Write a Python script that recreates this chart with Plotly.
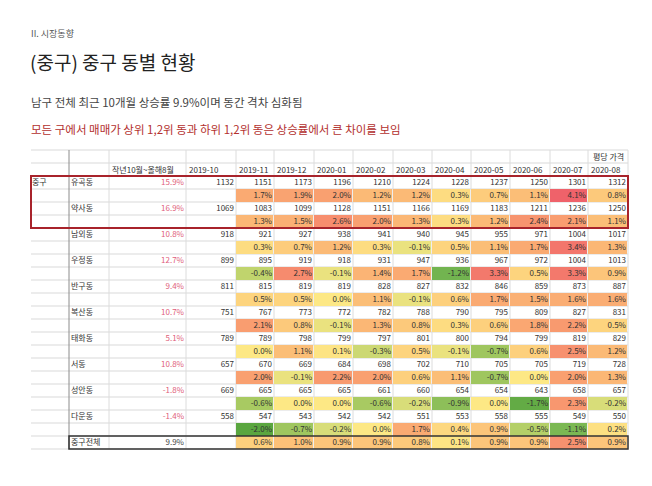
import plotly.graph_objects as go

FONT = "Noto Sans CJK KR"

# ---- data ----
district = "중구"
dongs = ["유곡동", "약사동", "남외동", "우정동", "반구동", "복산동", "태화동", "서동", "성안동", "다운동"]
growth = [15.9, 16.9, 10.8, 12.7, 9.4, 10.7, 5.1, 10.8, -1.8, -1.4]
price_2019_10 = [1132, 1069, 918, 899, 811, 751, 789, 657, 669, 558]
months = ["2019-11", "2019-12", "2020-01", "2020-02", "2020-03",
          "2020-04", "2020-05", "2020-06", "2020-07", "2020-08"]
prices = [
    [1151, 1173, 1196, 1210, 1224, 1228, 1237, 1250, 1301, 1312],
    [1083, 1099, 1128, 1151, 1166, 1169, 1183, 1211, 1236, 1250],
    [921, 927, 938, 941, 940, 945, 955, 971, 1004, 1017],
    [895, 919, 918, 931, 947, 936, 967, 972, 1004, 1013],
    [815, 819, 819, 828, 827, 832, 846, 859, 873, 887],
    [767, 773, 772, 782, 788, 790, 795, 809, 827, 831],
    [789, 798, 799, 797, 801, 800, 794, 799, 819, 829],
    [670, 669, 684, 698, 702, 710, 705, 705, 719, 728],
    [665, 665, 665, 661, 660, 654, 654, 643, 658, 657],
    [547, 543, 542, 542, 551, 553, 558, 555, 549, 550],
]
changes = [
    [1.7, 1.9, 2.0, 1.2, 1.2, 0.3, 0.7, 1.1, 4.1, 0.8],
    [1.3, 1.5, 2.6, 2.0, 1.3, 0.3, 1.2, 2.4, 2.1, 1.1],
    [0.3, 0.7, 1.2, 0.3, -0.1, 0.5, 1.1, 1.7, 3.4, 1.3],
    [-0.4, 2.7, -0.1, 1.4, 1.7, -1.2, 3.3, 0.5, 3.3, 0.9],
    [0.5, 0.5, 0.0, 1.1, -0.1, 0.6, 1.7, 1.5, 1.6, 1.6],
    [2.1, 0.8, -0.1, 1.3, 0.8, 0.3, 0.6, 1.8, 2.2, 0.5],
    [0.0, 1.1, 0.1, -0.3, 0.5, -0.1, -0.7, 0.6, 2.5, 1.2],
    [2.0, -0.1, 2.2, 2.0, 0.6, 1.1, -0.7, 0.0, 2.0, 1.3],
    [-0.6, 0.0, 0.0, -0.6, -0.2, -0.9, 0.0, -1.7, 2.3, -0.2],
    [-2.0, -0.7, -0.2, 0.0, 1.7, 0.4, 0.9, -0.5, -1.1, 0.2],
]
total_label = "중구전체"
total_growth = 9.9
total_changes = [0.6, 1.0, 0.9, 0.9, 0.8, 0.1, 0.9, 0.9, 2.5, 0.9]

# ---- layout (pixel grid of the sheet) ----
col_edges = [31, 69, 109, 186, 236, 274, 314, 353, 393, 432, 471, 510, 550, 588, 628]
month_edges = col_edges[4:]
head_top, head_mid, body_top, row_h = 150, 163, 176, 13
n_rows = len(dongs) * 2 + 1
row_edges = [body_top + row_h * k for k in range(n_rows + 1)]
row_mid = [(row_edges[k] + row_edges[k + 1]) / 2 for k in range(n_rows)]
PAGE_PAD = 8  # the page body margin pushes the figure by this much

fig = go.Figure()

# colour-scaled change cells
z = []
for ch in changes:
    z.append([None] * len(months))
    z.append(ch)
z.append(total_changes)
zmin, zmax = -2.0, 4.1


def pos(v):
    return (v - zmin) / (zmax - zmin)


scale = [
    [0, "#5aa63f"], [pos(-1.2), "#72b450"], [pos(-0.6), "#a8ca62"],
    [pos(-0.2), "#d8dd79"], [pos(0.0), "#fde885"], [pos(0.6), "#fdd07d"],
    [pos(1.2), "#fbba76"], [pos(2.0), "#f9a070"], [pos(3.0), "#f5826d"],
    [1, "#ef626a"],
]
fig.add_trace(go.Heatmap(
    x=month_edges, y=row_edges, z=z, zmin=zmin, zmax=zmax,
    colorscale=scale, showscale=False, xgap=1, hoverinfo="skip",
))


def add_text(xs, ys, texts, color, align="right"):
    fig.add_trace(go.Scatter(
        x=xs, y=ys, text=texts, mode="text",
        textposition="middle left" if align == "right" else "middle right",
        textfont=dict(family=FONT, size=8, color=color),
        hoverinfo="skip", showlegend=False,
    ))


price_rows = [row_mid[2 * i] for i in range(len(dongs))]
pct_rows = [row_mid[2 * i + 1] for i in range(len(dongs))]

# labels
add_text([col_edges[0] + 1], [price_rows[0]], [district], "#333", "left")
add_text([col_edges[1] + 2] * (len(dongs) + 1), price_rows + [row_mid[-1]],
         dongs + [total_label], "#333", "left")
# growth column
add_text([col_edges[3] - 2] * len(dongs), price_rows,
         [f"{g:.1f}%" for g in growth], "#e0607a")
add_text([col_edges[3] - 2], [row_mid[-1]], [f"{total_growth:.1f}%"], "#444")
# 2019-10
add_text([col_edges[4] - 2] * len(dongs), price_rows,
         [str(p) for p in price_2019_10], "#333")
# monthly prices and changes
for j in range(len(months)):
    xr = month_edges[j + 1] - 2
    add_text([xr] * len(dongs), price_rows, [str(p[j]) for p in prices], "#333")
    add_text([xr] * (len(dongs) + 1), pct_rows + [row_mid[-1]],
             [f"{c[j]:.1f}%" for c in changes] + [f"{total_changes[j]:.1f}%"], "#333")

# header texts
headers = ["작년10월~올해8월", "2019-10"] + months
ann = []
for k, h in enumerate(headers):
    ann.append(dict(x=col_edges[k + 2] + 1, y=(head_mid + body_top) / 2, text=h,
                    xanchor="left", yanchor="middle", showarrow=False,
                    font=dict(family=FONT, size=8, color="#333")))
ann.append(dict(x=col_edges[-2] + 3, y=(head_top + head_mid) / 2, text="평당 가격",
                xanchor="left", yanchor="middle", showarrow=False,
                font=dict(family=FONT, size=8, color="#333")))

# page texts
ann += [
    dict(x=29, y=33, text="II. 시장동향", font=dict(family=FONT, size=9, color="#555")),
    dict(x=28, y=61, text="(중구) 중구 동별 현황", font=dict(family=FONT, size=19, color="#222")),
    dict(x=29, y=102, text="남구 전체 최근 10개월 상승률 9.9%이며 동간 격차 심화됨",
         font=dict(family=FONT, size=11.5, color="#444")),
    dict(x=29, y=129, text="모든 구에서 매매가 상위 1,2위 동과 하위 1,2위 동은 상승률에서 큰 차이를 보임",
         font=dict(family=FONT, size=11.5, color="#b3302e")),
]
for a in ann[-4:]:
    a.update(xanchor="left", yanchor="middle", showarrow=False)

# grid lines
shapes = []
for y in [head_top, head_mid] + row_edges:
    shapes.append(dict(type="line", x0=col_edges[0], x1=col_edges[-1], y0=y, y1=y,
                       line=dict(color="#d9d9d9", width=1), layer="below"))
for k, x in enumerate(col_edges[1:]):
    shapes.append(dict(type="line", x0=x, x1=x, y0=head_top, y1=row_edges[-1],
                       line=dict(color="#8c8c8c" if k == 0 else "#dcdcdc", width=1),
                       layer="below"))
# highlight boxes
shapes.append(dict(type="rect", x0=col_edges[0], x1=col_edges[-1],
                   y0=row_edges[0], y1=row_edges[4],
                   line=dict(color="#a8232b", width=2)))
shapes.append(dict(type="rect", x0=col_edges[1], x1=col_edges[-1],
                   y0=row_edges[-2], y1=row_edges[-1],
                   line=dict(color="#333", width=1.5)))

fig.update_layout(
    width=652, height=486, margin=dict(l=0, r=0, t=0, b=0),
    paper_bgcolor="white", plot_bgcolor="white",
    xaxis=dict(range=[PAGE_PAD, 652 + PAGE_PAD], visible=False, fixedrange=True),
    yaxis=dict(range=[486 + PAGE_PAD, PAGE_PAD], visible=False, fixedrange=True),
    annotations=ann, shapes=shapes, showlegend=False,
)
fig.write_html("out.html")
